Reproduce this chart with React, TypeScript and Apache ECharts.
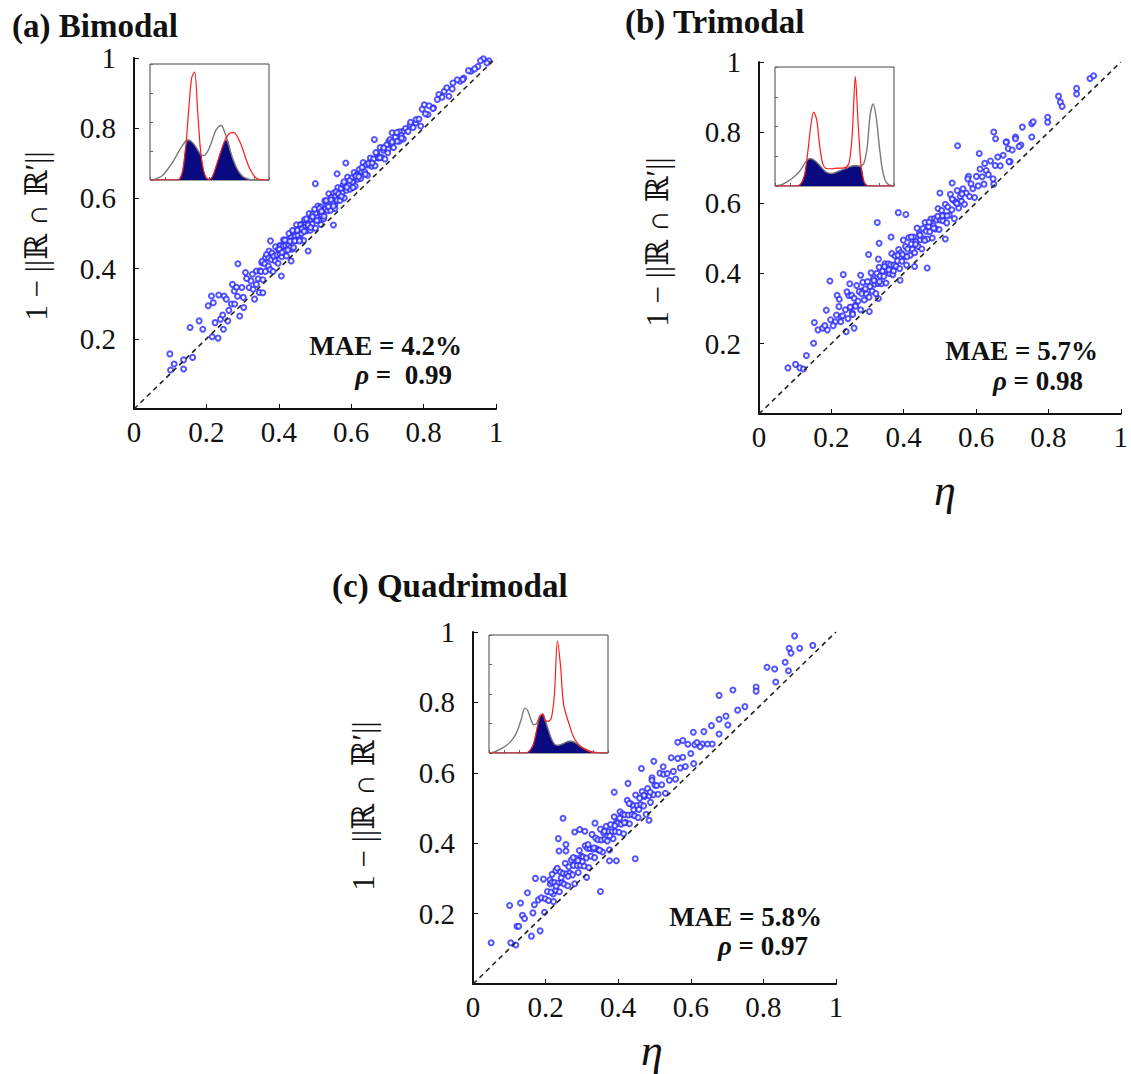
import React, { useEffect, useRef } from 'react';
import * as echarts from 'echarts';

const SERIF = "'Liberation Serif', 'DejaVu Serif', 'Times New Roman', serif";

const panelTitles = ['(a) Bimodal', '(b) Trimodal', '(c) Quadrimodal'];
const maeLabels = ['MAE = 4.2%', 'MAE = 5.7%', 'MAE = 5.8%'];
const rhoValues = [' =  0.99', ' = 0.98', ' = 0.97'];
const yAxisTitle = '1 − ||ℝ ∩ ℝ′||';
const xAxisTitle = 'η';
const diagonal = [[0, 0], [1, 1]];

// inset density curves (x grid, then gray = original, red = reconstructed)
const insetX = [0, 0.025, 0.05, 0.075, 0.1, 0.125, 0.15, 0.175, 0.2, 0.225, 0.25, 0.275, 0.3, 0.325, 0.35, 0.375, 0.4, 0.425, 0.45, 0.475, 0.5, 0.525, 0.55, 0.575, 0.6, 0.625, 0.65, 0.675, 0.7, 0.725, 0.75, 0.775, 0.8, 0.825, 0.85, 0.875, 0.9, 0.925, 0.95, 0.975, 1];
const grayA = [0, 0.003, 0.01, 0.02, 0.035, 0.06, 0.095, 0.13, 0.17, 0.215, 0.26, 0.3, 0.335, 0.345, 0.33, 0.3, 0.26, 0.22, 0.21, 0.23, 0.28, 0.35, 0.42, 0.46, 0.47, 0.42, 0.34, 0.25, 0.17, 0.11, 0.065, 0.035, 0.018, 0.008, 0.003, 0.001, 0, 0, 0, 0, 0];
const redA = [0, 0, 0, 0, 0, 0, 0, 0, 0, 0, 0.01, 0.08, 0.28, 0.6, 0.88, 0.93, 0.6, 0.25, 0.08, 0.015, 0.005, 0.03, 0.1, 0.18, 0.26, 0.33, 0.38, 0.405, 0.41, 0.39, 0.34, 0.28, 0.2, 0.13, 0.075, 0.035, 0.012, 0.003, 0, 0, 0];
const grayB = [0, 0.004, 0.01, 0.02, 0.035, 0.05, 0.07, 0.09, 0.115, 0.15, 0.19, 0.22, 0.23, 0.22, 0.2, 0.175, 0.145, 0.12, 0.108, 0.105, 0.11, 0.12, 0.13, 0.14, 0.15, 0.16, 0.168, 0.17, 0.168, 0.17, 0.2, 0.33, 0.6, 0.69, 0.58, 0.35, 0.15, 0.05, 0.015, 0.004, 0];
const redB = [0, 0, 0, 0, 0, 0, 0, 0, 0.005, 0.03, 0.1, 0.28, 0.5, 0.62, 0.56, 0.34, 0.19, 0.15, 0.145, 0.145, 0.148, 0.15, 0.15, 0.152, 0.16, 0.2, 0.45, 0.92, 0.5, 0.15, 0.03, 0.005, 0, 0, 0, 0, 0, 0, 0, 0, 0];
const grayC = [0, 0.005, 0.012, 0.022, 0.035, 0.05, 0.068, 0.09, 0.12, 0.16, 0.22, 0.3, 0.38, 0.36, 0.29, 0.24, 0.25, 0.31, 0.33, 0.27, 0.19, 0.12, 0.075, 0.065, 0.07, 0.08, 0.092, 0.1, 0.098, 0.088, 0.07, 0.052, 0.038, 0.025, 0.015, 0.008, 0.004, 0.002, 0, 0, 0];
const redC = [0, 0, 0, 0, 0, 0, 0, 0, 0, 0, 0, 0, 0, 0.005, 0.03, 0.08, 0.19, 0.3, 0.33, 0.27, 0.27, 0.3, 0.5, 0.95, 0.75, 0.42, 0.32, 0.24, 0.16, 0.11, 0.075, 0.05, 0.035, 0.022, 0.012, 0.006, 0.002, 0, 0, 0, 0];

const scatterA = [
  [0.099, 0.157], [0.111, 0.128], [0.101, 0.111], [0.137, 0.14], [0.137, 0.114], [0.162, 0.147], [0.155, 0.232], [0.18, 0.251], [0.19, 0.227], [0.205, 0.294], [0.214, 0.322], [0.234, 0.325], [0.219, 0.303], [0.216, 0.206], [0.232, 0.202], [0.224, 0.246], [0.239, 0.256], [0.247, 0.227], [0.259, 0.251], [0.249, 0.322], [0.255, 0.313], [0.272, 0.355], [0.277, 0.336], [0.287, 0.414], [0.269, 0.299], [0.278, 0.299], [0.292, 0.265], [0.303, 0.289], [0.298, 0.346], [0.308, 0.389], [0.323, 0.365], [0.318, 0.346], [0.333, 0.313], [0.338, 0.355], [0.346, 0.332], [0.356, 0.331], [0.338, 0.393], [0.353, 0.417], [0.363, 0.431], [0.373, 0.45], [0.377, 0.479], [0.387, 0.431], [0.407, 0.379], [0.402, 0.465], [0.417, 0.479], [0.417, 0.45], [0.434, 0.422], [0.437, 0.455], [0.447, 0.488], [0.466, 0.507], [0.481, 0.45], [0.462, 0.526], [0.486, 0.545], [0.501, 0.642], [0.511, 0.564], [0.516, 0.526], [0.551, 0.524], [0.561, 0.67], [0.536, 0.592], [0.555, 0.583], [0.575, 0.602], [0.585, 0.701], [0.595, 0.63], [0.605, 0.649], [0.629, 0.678], [0.664, 0.768], [0.654, 0.706], [0.674, 0.716], [0.689, 0.744], [0.704, 0.763], [0.713, 0.787], [0.733, 0.763], [0.743, 0.791], [0.763, 0.81], [0.778, 0.815], [0.792, 0.806], [0.802, 0.867], [0.812, 0.839], [0.827, 0.858], [0.842, 0.896], [0.857, 0.905], [0.87, 0.891], [0.881, 0.929], [0.901, 0.934], [0.911, 0.943], [0.931, 0.962], [0.95, 0.976], [0.965, 0.998], [0.98, 0.992], [0.975, 0.986],
  [0.311, 0.372], [0.327, 0.384], [0.343, 0.371], [0.348, 0.394], [0.329, 0.341], [0.286, 0.321], [0.262, 0.281], [0.245, 0.268], [0.302, 0.318], [0.283, 0.347],
  [0.351, 0.392], [0.354, 0.421], [0.356, 0.368], [0.361, 0.414], [0.363, 0.392], [0.366, 0.44], [0.371, 0.407], [0.372, 0.43], [0.376, 0.397], [0.379, 0.425], [0.381, 0.444], [0.384, 0.392], [0.386, 0.435], [0.39, 0.422], [0.391, 0.462], [0.395, 0.439], [0.398, 0.415], [0.399, 0.455], [0.403, 0.441], [0.405, 0.466], [0.408, 0.434], [0.412, 0.464], [0.413, 0.482], [0.416, 0.45], [0.419, 0.466], [0.421, 0.436], [0.424, 0.483], [0.427, 0.466], [0.428, 0.5], [0.432, 0.46], [0.434, 0.488], [0.437, 0.48], [0.44, 0.505], [0.441, 0.46], [0.445, 0.493], [0.447, 0.48], [0.449, 0.525], [0.453, 0.495], [0.455, 0.512], [0.459, 0.483], [0.46, 0.524], [0.463, 0.5], [0.466, 0.517], [0.469, 0.48], [0.471, 0.539], [0.473, 0.518], [0.477, 0.508], [0.479, 0.538], [0.482, 0.522], [0.484, 0.557], [0.487, 0.509], [0.489, 0.539], [0.492, 0.527], [0.494, 0.556], [0.497, 0.543], [0.501, 0.515], [0.503, 0.558], [0.506, 0.545], [0.508, 0.578], [0.511, 0.538], [0.514, 0.562], [0.516, 0.576], [0.519, 0.552], [0.522, 0.566], [0.524, 0.542], [0.527, 0.593], [0.529, 0.57], [0.533, 0.586], [0.535, 0.565], [0.538, 0.613], [0.541, 0.588], [0.543, 0.566], [0.546, 0.604], [0.549, 0.587], [0.552, 0.615], [0.555, 0.571], [0.557, 0.606], [0.561, 0.595], [0.563, 0.631], [0.566, 0.609], [0.569, 0.594], [0.572, 0.628], [0.575, 0.615], [0.578, 0.639], [0.581, 0.601], [0.584, 0.634], [0.587, 0.623], [0.59, 0.661], [0.594, 0.639], [0.597, 0.626], [0.601, 0.658], [0.604, 0.646], [0.608, 0.674], [0.611, 0.635], [0.615, 0.667], [0.618, 0.655], [0.622, 0.682], [0.626, 0.657], [0.629, 0.676], [0.633, 0.702], [0.637, 0.676], [0.641, 0.695], [0.645, 0.666], [0.649, 0.695], [0.653, 0.715], [0.657, 0.692], [0.662, 0.712], [0.666, 0.693], [0.671, 0.729], [0.675, 0.716], [0.68, 0.745], [0.684, 0.717], [0.689, 0.737], [0.693, 0.712], [0.698, 0.753], [0.702, 0.74], [0.707, 0.768], [0.712, 0.756], [0.717, 0.745], [0.722, 0.774], [0.727, 0.763], [0.733, 0.79], [0.738, 0.78], [0.744, 0.769], [0.75, 0.799], [0.757, 0.791], [0.764, 0.817], [0.771, 0.802], [0.779, 0.825], [0.787, 0.826], [0.796, 0.854], [0.805, 0.841], [0.815, 0.864], [0.826, 0.856], [0.838, 0.882], [0.851, 0.888], [0.864, 0.915], [0.879, 0.912], [0.893, 0.938], [0.908, 0.939], [0.924, 0.964], [0.941, 0.969], [0.957, 0.992],
  [0.402, 0.455], [0.409, 0.446], [0.417, 0.481], [0.425, 0.453], [0.431, 0.478], [0.438, 0.509], [0.444, 0.479], [0.451, 0.509], [0.457, 0.479], [0.464, 0.513], [0.47, 0.506], [0.476, 0.542], [0.481, 0.524], [0.488, 0.517], [0.493, 0.548], [0.499, 0.569], [0.505, 0.537], [0.512, 0.571], [0.518, 0.563], [0.525, 0.549], [0.531, 0.594], [0.537, 0.577], [0.544, 0.596], [0.551, 0.578], [0.558, 0.619], [0.565, 0.613], [0.573, 0.606], [0.58, 0.647], [0.588, 0.632], [0.596, 0.651], [0.605, 0.631], [0.613, 0.663], [0.621, 0.662], [0.63, 0.688], [0.639, 0.669], [0.648, 0.7], [0.658, 0.701], [0.668, 0.731], [0.679, 0.716], [0.69, 0.744], [0.701, 0.73], [0.713, 0.761], [0.726, 0.788], [0.739, 0.772],
];

const scatterB = [
  [0.08, 0.131], [0.101, 0.141], [0.113, 0.131], [0.123, 0.128], [0.131, 0.166], [0.151, 0.201], [0.153, 0.26], [0.163, 0.239], [0.176, 0.244], [0.189, 0.239], [0.186, 0.295], [0.196, 0.378], [0.211, 0.262], [0.216, 0.337], [0.221, 0.305], [0.226, 0.276], [0.233, 0.396], [0.241, 0.234], [0.251, 0.37], [0.248, 0.337], [0.263, 0.244], [0.266, 0.309], [0.281, 0.394], [0.286, 0.35], [0.303, 0.453], [0.305, 0.291], [0.327, 0.544], [0.332, 0.485], [0.33, 0.328], [0.33, 0.44], [0.365, 0.503], [0.385, 0.572], [0.406, 0.567], [0.39, 0.38], [0.43, 0.419], [0.465, 0.415], [0.515, 0.497], [0.549, 0.762], [0.5, 0.628], [0.534, 0.656], [0.579, 0.675], [0.609, 0.74], [0.624, 0.712], [0.649, 0.653], [0.649, 0.801], [0.654, 0.782], [0.684, 0.773], [0.689, 0.754], [0.694, 0.717], [0.709, 0.787], [0.724, 0.764], [0.728, 0.815], [0.754, 0.787], [0.754, 0.825], [0.758, 0.83], [0.798, 0.843], [0.798, 0.829], [0.828, 0.903], [0.833, 0.886], [0.838, 0.874], [0.878, 0.925], [0.878, 0.909], [0.915, 0.953], [0.925, 0.961],
  [0.231, 0.279], [0.239, 0.296], [0.246, 0.271], [0.253, 0.302], [0.258, 0.287], [0.226, 0.262], [0.214, 0.281], [0.205, 0.251], [0.222, 0.326], [0.243, 0.347], [0.198, 0.268], [0.182, 0.251],
  [0.252, 0.304], [0.256, 0.337], [0.259, 0.283], [0.263, 0.329], [0.267, 0.306], [0.27, 0.365], [0.274, 0.321], [0.277, 0.348], [0.281, 0.296], [0.284, 0.342], [0.287, 0.374], [0.291, 0.324], [0.294, 0.356], [0.297, 0.341], [0.3, 0.376], [0.304, 0.332], [0.307, 0.362], [0.31, 0.401], [0.313, 0.349], [0.316, 0.384], [0.32, 0.369], [0.323, 0.342], [0.326, 0.4], [0.329, 0.371], [0.332, 0.417], [0.335, 0.392], [0.339, 0.37], [0.342, 0.406], [0.345, 0.391], [0.348, 0.427], [0.351, 0.372], [0.354, 0.407], [0.357, 0.427], [0.361, 0.399], [0.364, 0.424], [0.367, 0.456], [0.37, 0.396], [0.373, 0.423], [0.376, 0.449], [0.379, 0.42], [0.383, 0.435], [0.386, 0.467], [0.389, 0.413], [0.392, 0.458], [0.395, 0.434], [0.399, 0.494], [0.402, 0.449], [0.405, 0.476], [0.408, 0.423], [0.411, 0.469], [0.414, 0.501], [0.418, 0.451], [0.421, 0.483], [0.424, 0.468], [0.427, 0.503], [0.43, 0.458], [0.434, 0.489], [0.437, 0.528], [0.44, 0.476], [0.443, 0.511], [0.446, 0.495], [0.45, 0.469], [0.453, 0.527], [0.456, 0.498], [0.459, 0.544], [0.462, 0.519], [0.466, 0.497], [0.469, 0.533], [0.472, 0.518], [0.475, 0.554], [0.479, 0.5], [0.482, 0.535], [0.485, 0.555], [0.488, 0.526], [0.491, 0.551], [0.495, 0.584], [0.498, 0.524], [0.501, 0.551], [0.505, 0.578], [0.508, 0.549], [0.512, 0.564], [0.515, 0.596], [0.519, 0.543], [0.522, 0.588], [0.526, 0.565], [0.529, 0.624], [0.533, 0.58], [0.537, 0.608], [0.54, 0.555], [0.544, 0.602], [0.548, 0.635], [0.552, 0.585], [0.556, 0.618], [0.56, 0.604], [0.564, 0.64], [0.568, 0.596], [0.573, 0.628], [0.577, 0.668], [0.582, 0.618], [0.586, 0.654], [0.591, 0.64], [0.596, 0.615], [0.601, 0.675], [0.606, 0.648], [0.611, 0.696], [0.617, 0.674], [0.622, 0.653], [0.628, 0.692], [0.634, 0.68], [0.64, 0.719], [0.647, 0.668], [0.653, 0.706], [0.66, 0.73], [0.667, 0.705], [0.675, 0.735], [0.683, 0.772], [0.691, 0.717], [0.7, 0.75], [0.709, 0.782], [0.719, 0.76],
  [0.318, 0.379], [0.333, 0.376], [0.347, 0.419], [0.359, 0.41], [0.372, 0.406], [0.384, 0.451], [0.397, 0.453], [0.409, 0.447], [0.421, 0.503], [0.433, 0.482], [0.445, 0.508], [0.458, 0.493], [0.47, 0.545], [0.483, 0.528], [0.494, 0.562], [0.507, 0.563], [0.52, 0.563], [0.534, 0.611], [0.547, 0.598], [0.561, 0.625],
];

const scatterC = [
  [0.05, 0.117], [0.101, 0.223], [0.104, 0.117], [0.118, 0.111], [0.121, 0.164], [0.126, 0.164], [0.131, 0.23], [0.136, 0.195], [0.142, 0.186], [0.15, 0.259], [0.161, 0.136], [0.165, 0.202], [0.169, 0.225], [0.172, 0.3], [0.18, 0.239], [0.185, 0.151], [0.188, 0.245], [0.194, 0.298], [0.197, 0.204], [0.199, 0.242], [0.213, 0.284], [0.218, 0.312], [0.221, 0.256], [0.228, 0.322], [0.235, 0.413], [0.237, 0.378], [0.248, 0.471], [0.256, 0.378], [0.256, 0.396], [0.28, 0.432], [0.294, 0.439], [0.308, 0.434], [0.313, 0.303], [0.336, 0.457], [0.351, 0.263], [0.376, 0.35], [0.389, 0.545], [0.395, 0.35], [0.427, 0.57], [0.447, 0.356], [0.464, 0.612], [0.485, 0.465], [0.498, 0.633], [0.493, 0.586], [0.524, 0.617], [0.564, 0.687], [0.578, 0.692], [0.607, 0.715], [0.611, 0.68], [0.632, 0.682], [0.659, 0.682], [0.657, 0.734], [0.678, 0.82], [0.678, 0.752], [0.678, 0.71], [0.697, 0.761], [0.702, 0.736], [0.716, 0.835], [0.729, 0.778], [0.749, 0.788], [0.78, 0.844], [0.78, 0.832], [0.81, 0.9], [0.831, 0.895], [0.834, 0.858], [0.86, 0.914], [0.869, 0.89], [0.871, 0.954], [0.876, 0.94], [0.886, 0.989], [0.9, 0.954], [0.936, 0.962],
  [0.205, 0.263], [0.208, 0.237], [0.212, 0.296], [0.215, 0.261], [0.218, 0.289], [0.222, 0.234], [0.225, 0.288], [0.228, 0.266], [0.232, 0.329], [0.235, 0.287], [0.238, 0.262], [0.241, 0.318], [0.245, 0.288], [0.248, 0.314], [0.251, 0.284], [0.254, 0.343], [0.258, 0.313], [0.261, 0.279], [0.264, 0.333], [0.267, 0.315], [0.271, 0.352], [0.274, 0.31], [0.277, 0.337], [0.28, 0.285], [0.283, 0.357], [0.287, 0.337], [0.29, 0.317], [0.293, 0.379], [0.296, 0.337], [0.299, 0.363], [0.303, 0.361], [0.306, 0.335], [0.309, 0.393], [0.312, 0.358], [0.315, 0.386], [0.319, 0.331], [0.322, 0.385], [0.325, 0.363], [0.328, 0.425], [0.331, 0.383], [0.335, 0.359], [0.338, 0.415], [0.341, 0.384], [0.344, 0.41], [0.347, 0.38], [0.351, 0.44], [0.354, 0.409], [0.357, 0.375], [0.36, 0.429], [0.363, 0.411], [0.367, 0.448], [0.37, 0.406], [0.373, 0.433], [0.376, 0.381], [0.379, 0.453], [0.383, 0.433], [0.386, 0.413], [0.389, 0.475], [0.392, 0.433], [0.395, 0.459], [0.399, 0.457], [0.402, 0.431], [0.405, 0.489], [0.408, 0.454], [0.412, 0.483], [0.415, 0.427], [0.418, 0.481], [0.421, 0.459], [0.425, 0.522], [0.428, 0.48], [0.431, 0.455], [0.435, 0.512], [0.438, 0.481], [0.441, 0.507], [0.445, 0.478], [0.448, 0.537], [0.452, 0.507], [0.455, 0.473], [0.459, 0.528], [0.462, 0.51], [0.466, 0.547], [0.47, 0.506], [0.473, 0.533], [0.477, 0.482], [0.481, 0.555], [0.485, 0.535], [0.489, 0.516], [0.493, 0.579], [0.497, 0.538], [0.501, 0.565], [0.506, 0.564], [0.51, 0.539], [0.515, 0.599], [0.52, 0.566], [0.525, 0.596], [0.53, 0.542], [0.535, 0.598], [0.541, 0.579], [0.546, 0.643], [0.552, 0.604], [0.558, 0.582], [0.564, 0.641], [0.571, 0.614], [0.578, 0.644], [0.585, 0.618], [0.592, 0.681], [0.6, 0.655], [0.608, 0.626], [0.617, 0.686], [0.626, 0.674], [0.636, 0.717], [0.646, 0.682],
  [0.301, 0.348], [0.317, 0.396], [0.333, 0.387], [0.349, 0.38], [0.362, 0.434], [0.377, 0.421], [0.391, 0.45], [0.404, 0.471], [0.417, 0.458], [0.43, 0.513], [0.443, 0.495], [0.457, 0.496], [0.471, 0.536], [0.488, 0.545], [0.262, 0.306], [0.276, 0.359], [0.289, 0.351], [0.243, 0.302], [0.229, 0.278],
];

const scatterSets = [scatterA, scatterB, scatterC];
const insetSets = [[grayA, redA], [grayB, redB], [grayC, redC]];

const mainGrids = [
  { left: 134, top: 58, width: 362, height: 351 },
  { left: 759, top: 62, width: 364, height: 352 },
  { left: 473, top: 632, width: 363, height: 352 },
];
const insetGrids = [
  { left: 150, top: 64, width: 119, height: 116 },
  { left: 775, top: 67, width: 119, height: 119 },
  { left: 489, top: 635, width: 119, height: 118 },
];
const titlePos = [[12, 26], [625, 22], [332, 586]];
const maePos = [[462, 346], [1098, 351], [822, 917]];
const rhoPos = [[452, 375], [1083, 381], [808, 946]];
const yNamePos = [[36, 236], [657, 242], [363, 806]];
const etaPos = [null, [945, 490], [652, 1050]];

function fmt(v: number) {
  return String(Number(v.toFixed(1)));
}

export default function App() {
  const ref = useRef<HTMLDivElement>(null);
  useEffect(() => {
    document.body.style.margin = '0';
    const chart = echarts.init(ref.current!, null, { renderer: 'svg' });
    const grid: any[] = [];
    const xAxis: any[] = [];
    const yAxis: any[] = [];
    const series: any[] = [];
    const graphic: any[] = [];

    mainGrids.forEach((g, i) => {
      grid.push({ ...g, containLabel: false, show: false });
      xAxis.push({
        gridIndex: i, type: 'value', min: 0, max: 1, interval: 0.2,
        axisLine: { show: true, onZero: false, lineStyle: { color: '#111', width: 2 } },
        axisTick: { show: true, inside: true, length: 5, lineStyle: { color: '#111', width: 1 } },
        axisLabel: { fontFamily: SERIF, fontSize: 29, color: '#111', margin: 8, formatter: fmt },
        splitLine: { show: false },
      });
      yAxis.push({
        gridIndex: i, type: 'value', min: 0, max: 1, interval: 0.2,
        axisLine: { show: true, onZero: false, lineStyle: { color: '#111', width: 2 } },
        axisTick: { show: true, inside: true, length: 5, lineStyle: { color: '#111', width: 1 } },
        axisLabel: { fontFamily: SERIF, fontSize: 29, color: '#111', margin: 18, formatter: (v: number) => (v === 0 ? '' : fmt(v)) },
        splitLine: { show: false },
      });
    });
    insetGrids.forEach((g, i) => {
      grid.push({ ...g, show: true, borderColor: '#444', borderWidth: 1, backgroundColor: '#fff', z: 5 });
      xAxis.push({
        gridIndex: 3 + i, type: 'value', min: 0, max: 1, interval: 0.125, z: 5,
        axisLine: { show: false }, axisLabel: { show: false }, splitLine: { show: false },
        axisTick: { show: true, inside: true, length: 3, lineStyle: { color: '#666' } },
      });
      yAxis.push({
        gridIndex: 3 + i, type: 'value', min: 0, max: 1, interval: 0.25, z: 5,
        axisLine: { show: false }, axisLabel: { show: false }, splitLine: { show: false },
        axisTick: { show: true, inside: true, length: 3, lineStyle: { color: '#666' } },
      });
    });

    scatterSets.forEach((data, i) => {
      series.push({
        type: 'scatter', xAxisIndex: i, yAxisIndex: i, data,
        symbol: 'emptyCircle', symbolSize: 5,
        itemStyle: { color: '#2a2aff', borderWidth: 0.9 },
        z: 2, silent: true,
      });
      series.push({
        type: 'line', xAxisIndex: i, yAxisIndex: i, data: diagonal,
        symbol: 'none', silent: true, z: 3,
        lineStyle: { color: '#222', type: [5, 4], width: 1.6 },
      });
    });

    insetSets.forEach(([gray, red], i) => {
      const ax = 3 + i;
      const overlap = insetX.map((x, k) => [x, Math.min(gray[k], red[k])]);
      series.push({
        type: 'line', xAxisIndex: ax, yAxisIndex: ax, data: overlap,
        symbol: 'none', smooth: 0.3, silent: true, z: 6,
        lineStyle: { width: 0.5, color: '#0a0a80' },
        areaStyle: { color: '#0a0a80', opacity: 1 },
      });
      series.push({
        type: 'line', xAxisIndex: ax, yAxisIndex: ax, data: insetX.map((x, k) => [x, gray[k]]),
        symbol: 'none', smooth: 0.3, silent: true, z: 7,
        lineStyle: { width: 1.4, color: '#7a7a7a' },
      });
      series.push({
        type: 'line', xAxisIndex: ax, yAxisIndex: ax, data: insetX.map((x, k) => [x, red[k]]),
        symbol: 'none', smooth: 0.3, silent: true, z: 8,
        lineStyle: { width: 1.2, color: '#ff1a1a' },
      });
    });

    const bold = { fontFamily: SERIF, fontWeight: 'bold', fontSize: 27, fill: '#111' };
    panelTitles.forEach((t, i) => {
      graphic.push({
        type: 'text', x: titlePos[i][0], y: titlePos[i][1], z: 20,
        style: { text: t, fontFamily: SERIF, fontWeight: 'bold', fontSize: 33, fill: '#111', align: 'left', verticalAlign: 'middle', textAlign: 'left', textVerticalAlign: 'middle' },
      });
      graphic.push({
        type: 'text', x: maePos[i][0], y: maePos[i][1], z: 20,
        style: { text: maeLabels[i], ...bold, align: 'right', verticalAlign: 'middle', textAlign: 'right', textVerticalAlign: 'middle' },
      });
      graphic.push({
        type: 'text', x: rhoPos[i][0], y: rhoPos[i][1], z: 20,
        style: {
          text: '{i|ρ}{b|' + rhoValues[i] + '}',
          rich: { i: { ...bold, fontStyle: 'italic' }, b: { ...bold } },
          align: 'right', verticalAlign: 'middle', textAlign: 'right', textVerticalAlign: 'middle',
        },
      });
      graphic.push({
        type: 'text', x: yNamePos[i][0], y: yNamePos[i][1], rotation: Math.PI / 2, z: 20,
        style: { text: yAxisTitle, fontFamily: SERIF, fontSize: 31, fill: '#111', align: 'center', verticalAlign: 'middle', textAlign: 'center', textVerticalAlign: 'middle' },
      });
      const ep = etaPos[i];
      if (ep) {
        graphic.push({
          type: 'text', x: ep[0], y: ep[1], z: 20,
          style: { text: xAxisTitle, fontFamily: SERIF, fontStyle: 'italic', fontSize: 44, fill: '#111', align: 'center', verticalAlign: 'middle', textAlign: 'center', textVerticalAlign: 'middle' },
        });
      }
    });

    chart.setOption({
      animation: false,
      backgroundColor: '#fff',
      grid, xAxis, yAxis, series, graphic,
    });
    return () => chart.dispose();
  }, []);
  return <div ref={ref} style={{ width: 1131, height: 1074 }} />;
}
